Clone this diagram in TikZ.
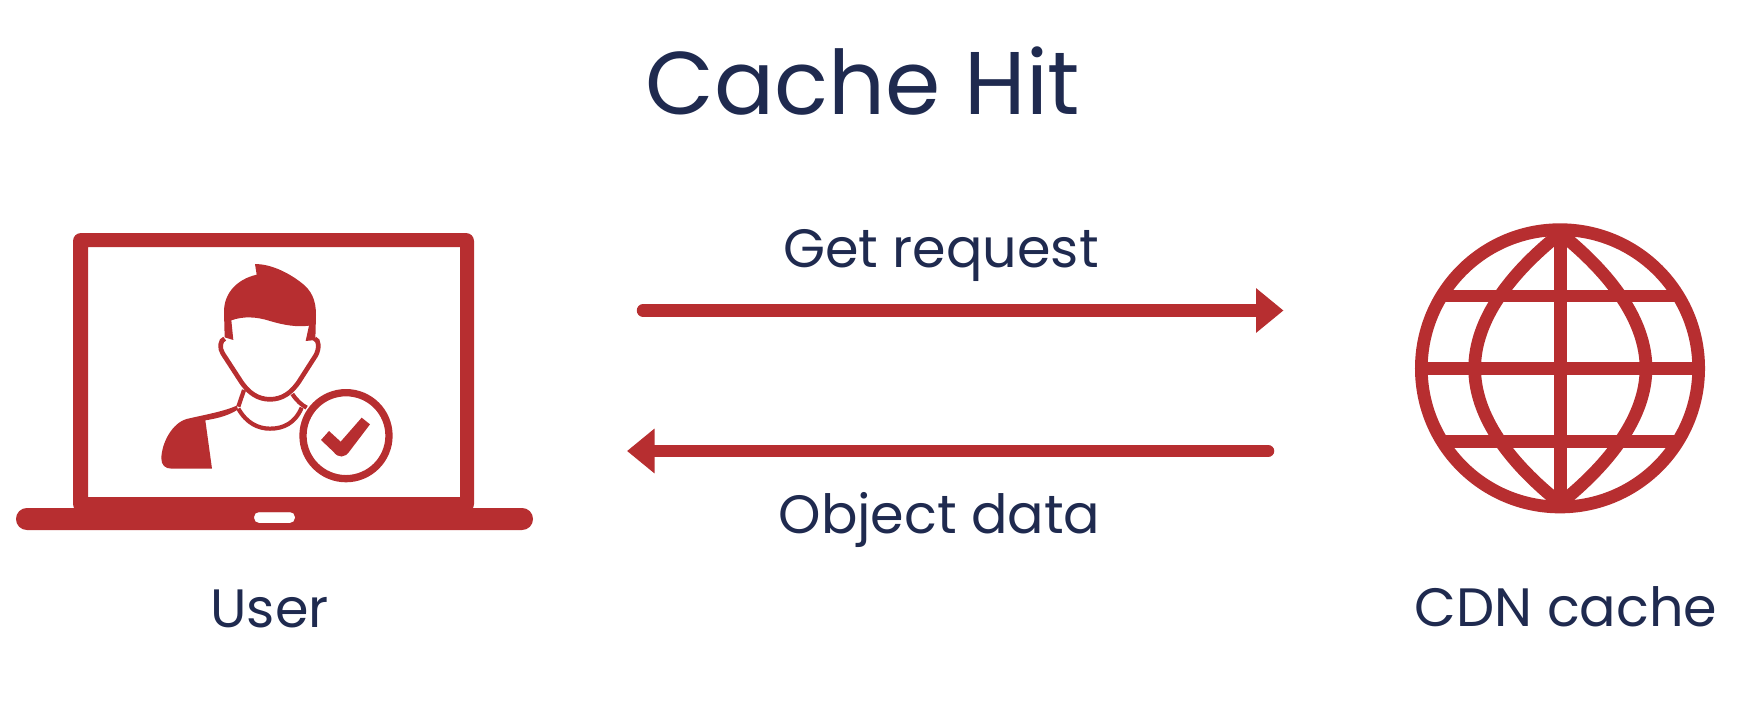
\documentclass[tikz,border=0pt]{standalone}
\usepackage{fontspec}
\setmainfont{Poppins}
\usepackage{xcolor}
\definecolor{ink}{HTML}{1F2A4F}
\definecolor{cRed}{HTML}{B72E30}
\usetikzlibrary{arrows.meta,positioning}
\tikzset{
  titlelbl/.style={font=\fontsize{89}{89}\selectfont,text=ink,anchor=base,inner sep=0pt},
  lbl/.style={font=\fontsize{54}{54}\selectfont,text=ink,anchor=base,inner sep=0pt},
  flow/.style={-{Triangle[length=27.5pt,width=43pt]},line width=12.5pt,line cap=round,cRed},
  glob/.style={draw=cRed,line width=12.7pt},
  thin/.style={draw=cRed,line width=4.2pt},
  solid red/.style={fill=cRed,draw=none}}

\begin{document}
\begin{tikzpicture}[x=1pt,y=-1pt]
  \useasboundingbox (0,0) rectangle (1757,728);
  \node[titlelbl] (title) at (863,114) {Cache Hit};
  % laptop
  \fill[cRed,even odd rule] [rounded corners=8pt] (73,233) rectangle (474,512)
    [sharp corners] (88,247) rectangle (460,497);
  \fill[cRed,even odd rule] [rounded corners=10.9pt] (16,508) rectangle (533,530)
    [rounded corners=5pt] (254,512) rectangle (295,523);
  % person, in the coordinates of a 3x crop
  \begin{scope}[shift={(130,240)},scale=1/3]
    \fill[solid red] (375,72) .. controls (420,72) and (470,95) .. (510,125)
      .. controls (545,150) and (558,180) .. (558,225) -- (556,300) -- (527,303) -- (537,257)
      .. controls (500,262) and (460,255) .. (420,243) .. controls (380,230) and (340,228) .. (304,241)
      -- (310,300) -- (284,292) -- (282,215) .. controls (282,160) and (320,118) .. (380,104) -- cycle;
    \draw[cRed,line width=4.7pt] (284,296) .. controls (270,300) and (268,325) .. (278,340) -- (330,420)
      .. controls (355,460) and (385,478) .. (420,478) .. controls (455,478) and (485,460) .. (510,420)
      -- (558,345) .. controls (568,325) and (568,300) .. (554,296);
    \draw[thin] (342,450) -- (325,500);
    \draw[thin] (487,462) .. controls (500,482) and (515,495) .. (530,503);
    \draw[thin] (325,506) .. controls (350,550) and (385,566) .. (420,566) .. controls (460,566) and (495,550) .. (515,503);
    \fill[solid red] (320,497) .. controls (280,515) and (220,525) .. (170,537)
      .. controls (125,550) and (95,610) .. (94,655) .. controls (94,675) and (105,686) .. (125,686)
      -- (246,686) -- (226,541) .. controls (265,535) and (300,525) .. (324,508) -- cycle;
    \draw[cRed,line width=7.3pt] (648,587) circle (129);
    \fill[solid red] (573,600) -- (597,573) -- (632,605) -- (695,533) -- (720,553) -- (660,632)
      .. controls (645,655) and (625,655) .. (610,635) -- cycle;
  \end{scope}
  \node[lbl] (user) at (269.5,627) {User};
  % globe
  \begin{scope}[shift={(1400,210)},scale=1/3]
    \draw[glob] (480,475) circle (416);
    \draw[glob] (481,60) -- (481,890);
    \draw[glob] (80,476) -- (880,476);
    \draw[glob] (135,258) -- (825,258);
    \draw[glob] (135,695) -- (825,695);
    \draw[glob] (481,70) .. controls (330,190) and (224,330) .. (224,475) .. controls (224,620) and (330,760) .. (481,880);
    \draw[glob] (481,70) .. controls (630,190) and (738,330) .. (738,475) .. controls (738,620) and (630,760) .. (481,880);
  \end{scope}
  \node[lbl] (cdn) at (1566,626) {CDN cache};
  % arrows
  \coordinate (reqtail) at (643,310.5);
  \coordinate (reqtip) at (1283.5,310.5);
  \coordinate (datatail) at (1268,451);
  \coordinate (datatip) at (627,451);
  \draw[flow] (reqtail) -- (reqtip);
  \draw[flow] (datatail) -- (datatip);
  \node[lbl] (req) at (941,267) {Get request};
  \node[lbl] (data) at (939.5,533) {Object data};
\end{tikzpicture}
\end{document}
